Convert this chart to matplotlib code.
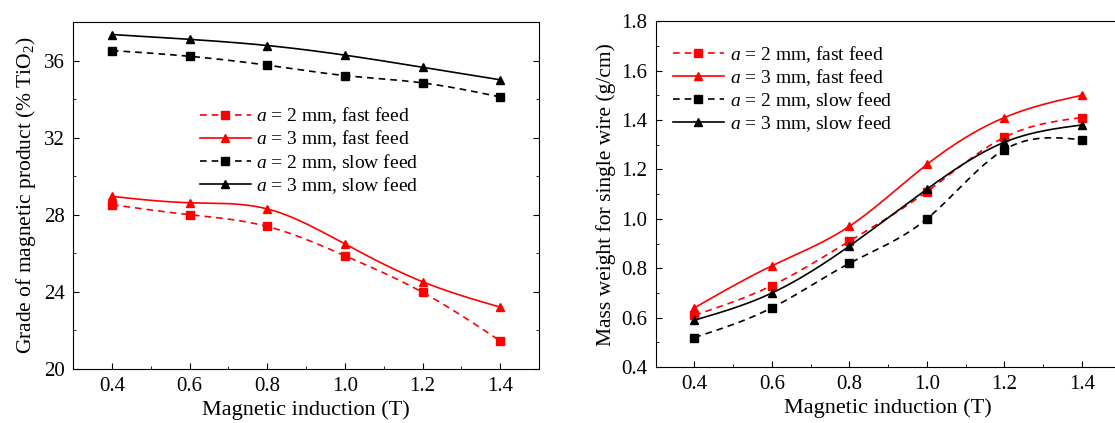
import numpy as np
import matplotlib
matplotlib.use("Agg")
import matplotlib.pyplot as plt
from matplotlib.ticker import MultipleLocator

plt.rcParams['font.family'] = ['Liberation Serif', 'DejaVu Serif']
plt.rcParams['mathtext.fontset'] = 'custom'
plt.rcParams['mathtext.rm'] = 'Liberation Serif'
plt.rcParams['mathtext.it'] = 'Liberation Serif:italic'

induction = [0.4, 0.6, 0.8, 1.0, 1.2, 1.4]

# grade of magnetic product (% TiO2)
grade_2mm_fast = [28.52, 28.00, 27.39, 25.87, 23.97, 21.45]
grade_3mm_fast = [28.95, 28.62, 28.30, 26.48, 24.52, 23.20]
grade_2mm_slow = [36.52, 36.22, 35.76, 35.22, 34.84, 34.11]
grade_3mm_slow = [37.35, 37.10, 36.78, 36.28, 35.65, 35.00]

# mass weight for single wire (g/cm)
mass_2mm_fast = [0.61, 0.73, 0.91, 1.11, 1.33, 1.41]
mass_3mm_fast = [0.64, 0.81, 0.97, 1.22, 1.41, 1.50]
mass_2mm_slow = [0.52, 0.64, 0.82, 1.00, 1.28, 1.32]
mass_3mm_slow = [0.59, 0.70, 0.89, 1.12, 1.31, 1.38]

labels = [r'$a$ = 2 mm, fast feed', r'$a$ = 3 mm, fast feed',
          r'$a$ = 2 mm, slow feed', r'$a$ = 3 mm, slow feed']


def spline(x, y, n=200):
    # natural cubic spline, just for drawing a smooth line through the points
    x = np.asarray(x, float)
    y = np.asarray(y, float)
    k = len(x)
    h = np.diff(x)
    A = np.zeros((k, k))
    b = np.zeros(k)
    A[0, 0] = A[-1, -1] = 1
    for i in range(1, k - 1):
        A[i, i - 1] = h[i - 1]
        A[i, i] = 2 * (h[i - 1] + h[i])
        A[i, i + 1] = h[i]
        b[i] = 6 * ((y[i + 1] - y[i]) / h[i] - (y[i] - y[i - 1]) / h[i - 1])
    M = np.linalg.solve(A, b)
    xs = np.linspace(x[0], x[-1], n)
    idx = np.clip(np.searchsorted(x, xs) - 1, 0, k - 2)
    x0, x1 = x[idx], x[idx + 1]
    hh = x1 - x0
    t0, t1 = x1 - xs, xs - x0
    ys = (M[idx] * t0**3 + M[idx + 1] * t1**3) / (6 * hh) \
        + (y[idx] / hh - M[idx] * hh / 6) * t0 \
        + (y[idx + 1] / hh - M[idx + 1] * hh / 6) * t1
    return xs, ys


def draw(ax, series):
    styles = [('red', (0, (4, 3)), 's'), ('red', '-', '^'),
              ('black', (0, (4, 3)), 's'), ('black', '-', '^')]
    for vals, (c, ls, m), lab in zip(series, styles, labels):
        xs, ys = spline(induction, vals)
        ax.plot(xs, ys, color=c, linestyle=ls, linewidth=1.2)
        ax.plot(induction, vals, linestyle='none', marker=m, color=c, markersize=6)
        ax.plot([], [], color=c, linestyle=ls, marker=m, markersize=6,
                linewidth=1.2, label=lab)
    ax.set_xlim(0.3, 1.5)
    ax.xaxis.set_minor_locator(MultipleLocator(0.1))
    ax.set_xticks(induction)
    ax.set_xticklabels(['%.1f' % v for v in induction])
    ax.set_xlabel('Magnetic induction (T)', fontsize=16, labelpad=3)
    ax.tick_params(which='both', direction='in', labelsize=15, pad=6)
    ax.tick_params(which='major', length=4.5)
    ax.tick_params(which='minor', length=2.5)


fig = plt.figure(figsize=(11.15, 4.23), dpi=100)
ax1 = fig.add_axes([0.0655, 0.128, 0.418, 0.820])
ax2 = fig.add_axes([0.588, 0.132, 0.417, 0.818])

draw(ax1, [grade_2mm_fast, grade_3mm_fast, grade_2mm_slow, grade_3mm_slow])
ax1.set_ylim(20, 38)
ax1.yaxis.set_major_locator(MultipleLocator(4))
ax1.yaxis.set_minor_locator(MultipleLocator(2))
ax1.tick_params(axis='y', which='both', right=True)
ax1.set_ylabel(r'Grade of magnetic product (% TiO$_2$)', fontsize=15.5, labelpad=4)
ax1.legend(loc='upper left', bbox_to_anchor=(0.235, 0.81), frameon=False,
           fontsize=14, handlelength=2.6, labelspacing=0.12, handletextpad=0.3)

draw(ax2, [mass_2mm_fast, mass_3mm_fast, mass_2mm_slow, mass_3mm_slow])
ax2.set_ylim(0.4, 1.8)
ax2.yaxis.set_major_locator(MultipleLocator(0.2))
ax2.yaxis.set_minor_locator(MultipleLocator(0.1))
ax2.set_ylabel('Mass weight for single wire (g/cm)', fontsize=15.5, labelpad=4)
ax2.legend(loc='upper left', bbox_to_anchor=(0.0, 0.985), frameon=False,
           fontsize=14, handlelength=2.6, labelspacing=0.12, handletextpad=0.3)

fig.savefig('out.png', dpi=100)
